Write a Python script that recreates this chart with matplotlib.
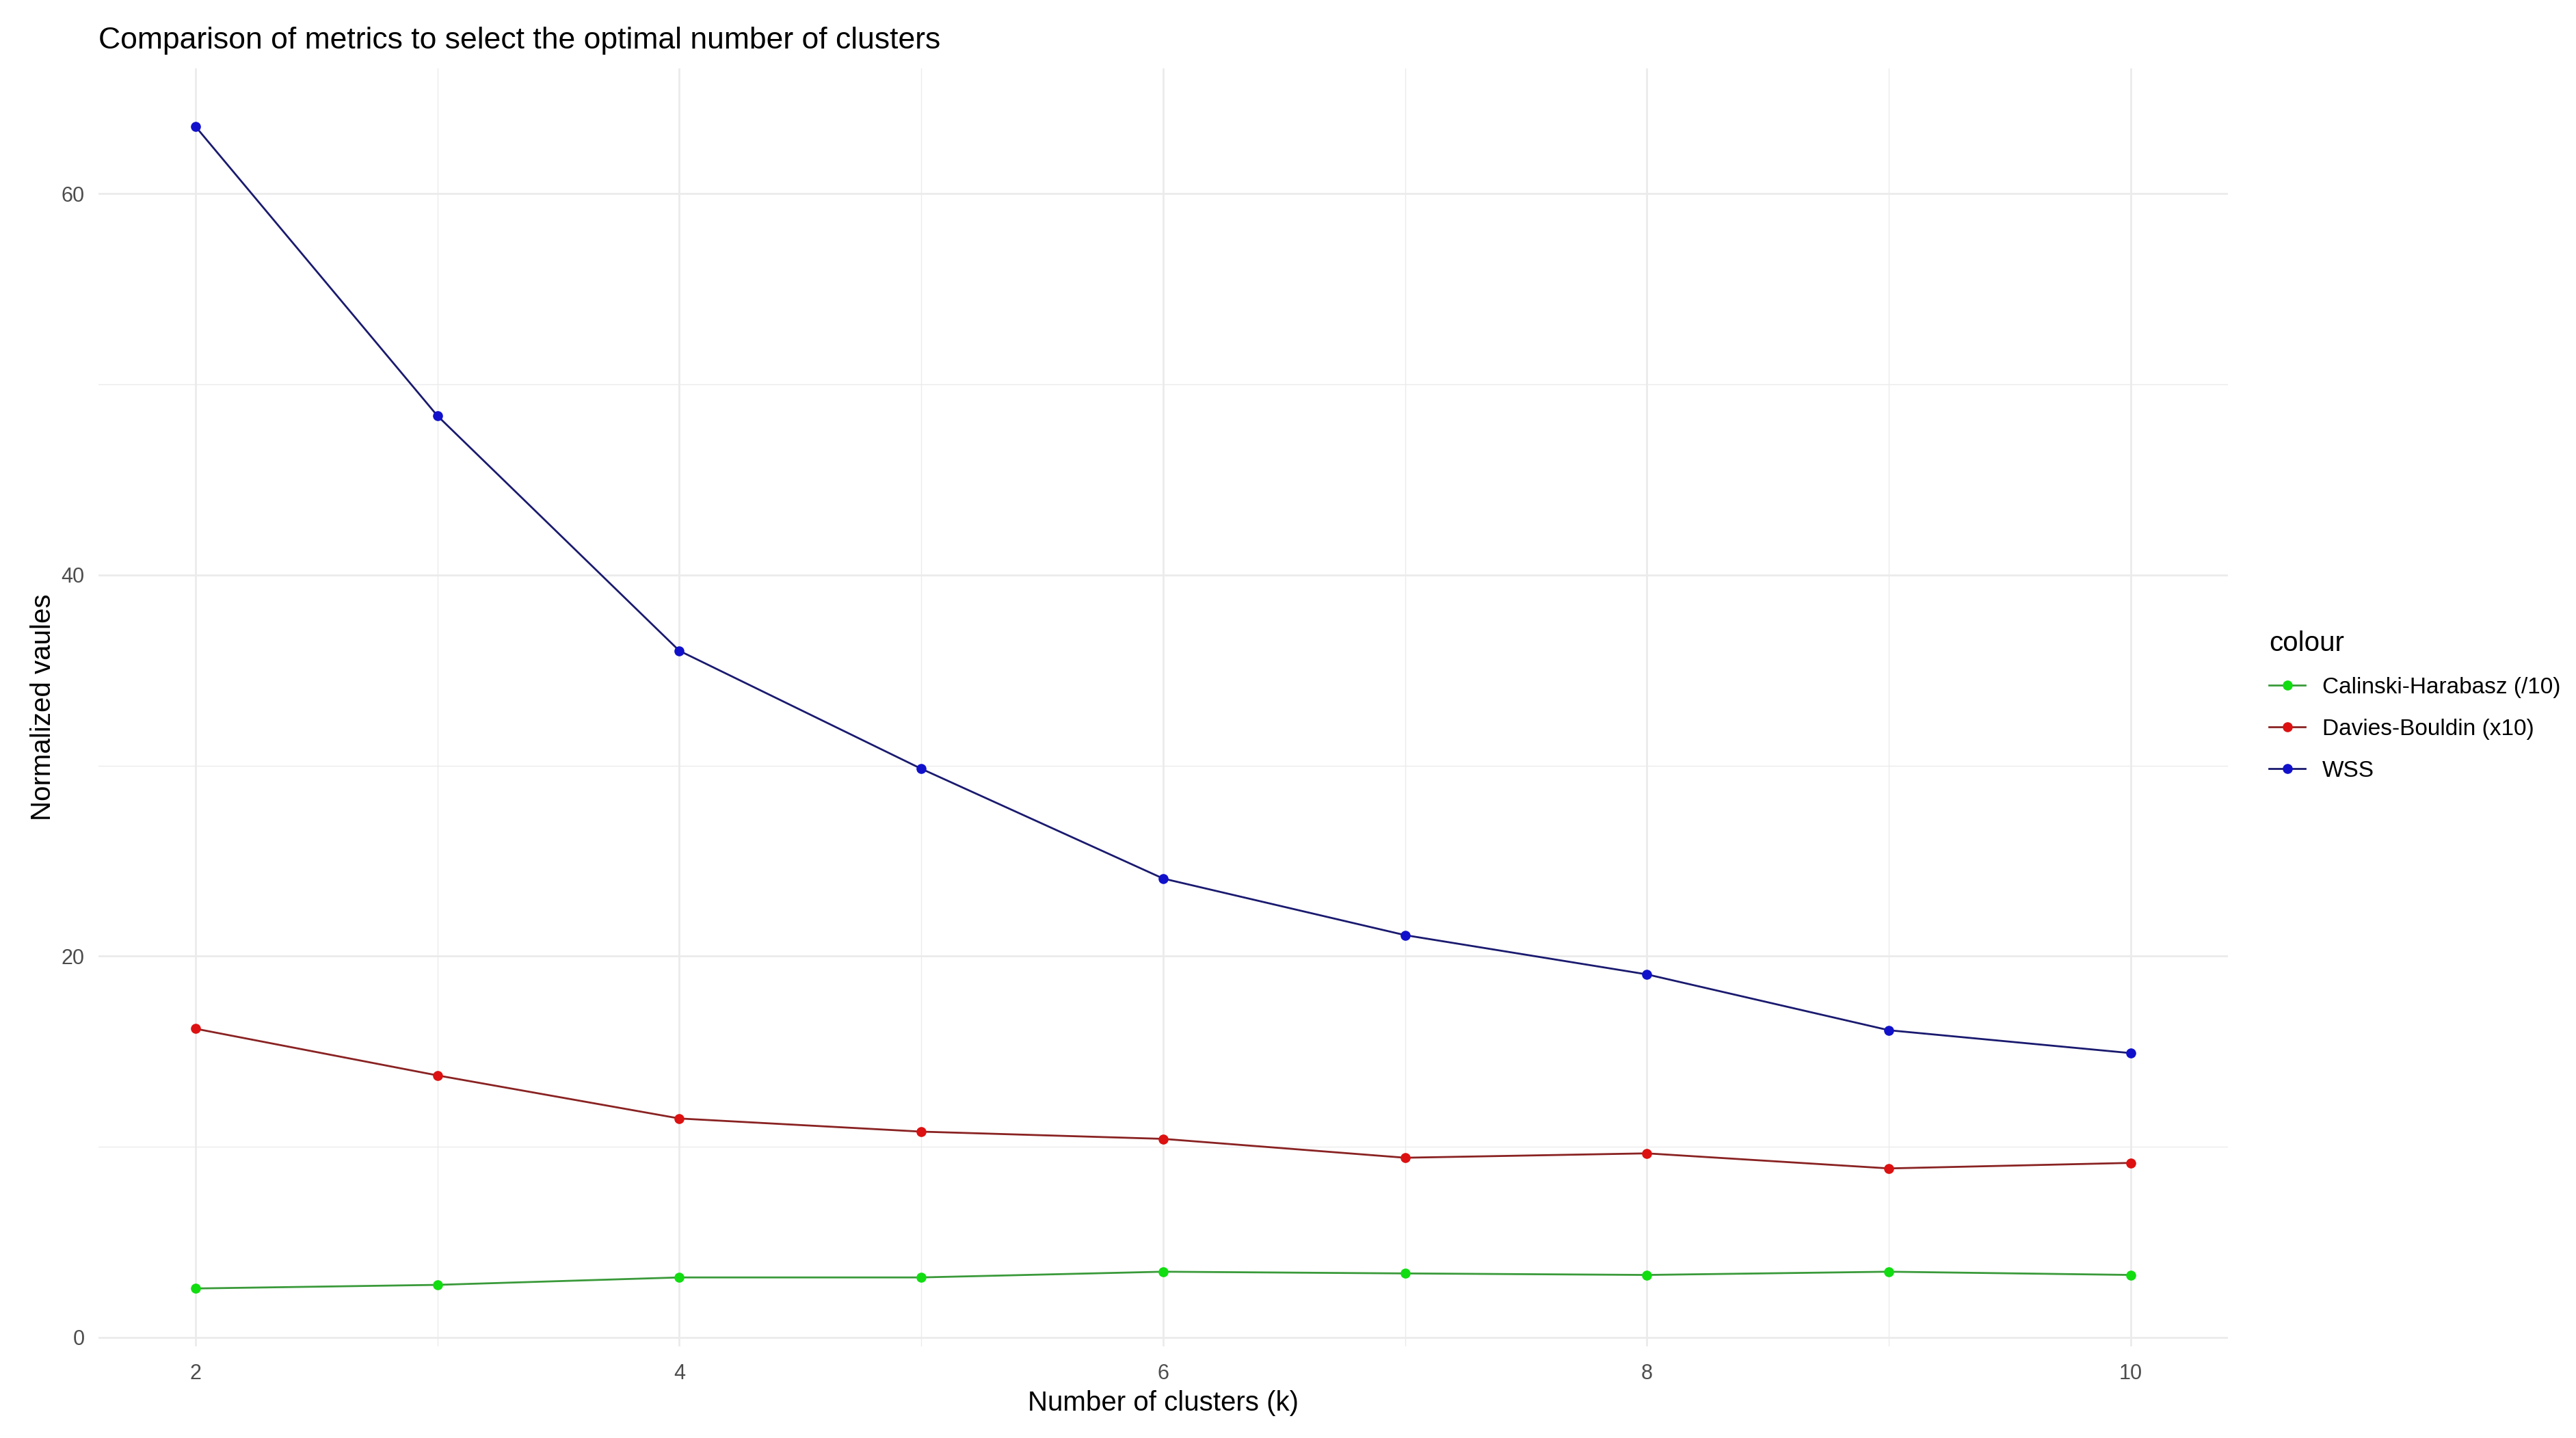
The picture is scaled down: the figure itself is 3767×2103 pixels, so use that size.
import numpy as np
import matplotlib
matplotlib.use('Agg')
import matplotlib.pyplot as plt
from matplotlib.lines import Line2D

plt.rcParams['font.family'] = ['Liberation Sans', 'DejaVu Sans']

# data
k = [2, 3, 4, 5, 6, 7, 8, 9, 10]
wss = [63.53, 48.35, 36.02, 29.83, 24.07, 21.10, 19.04, 16.11, 14.91]
db_x10 = [16.19, 13.74, 11.48, 10.79, 10.41, 9.42, 9.65, 8.86, 9.15]
ch_div10 = [2.56, 2.75, 3.14, 3.14, 3.44, 3.35, 3.27, 3.44, 3.27]
labels = ['Calinski-Harabasz (/10)', 'Davies-Bouldin (x10)', 'WSS']
xticks = [2, 4, 6, 8, 10]
yticks = [0, 20, 40, 60]

point_cols = ['#11dd11', '#dd1111', '#1111cc']
line_cols = ['#3a9a3a', '#8a2222', '#1a1a70']

W, H = 3767, 2103
fig = plt.figure(figsize=(W/100.0, H/100.0), dpi=100)
fig.patch.set_facecolor('white')

# panel in pixel coords
pl, pr, pt, pb = 144.4, 3257.5, 100.0, 1969.3
ax = fig.add_axes([pl/W, 1-pb/H, (pr-pl)/W, (pb-pt)/H])

series = [ch_div10, db_x10, wss]
for vals, lc in zip(series, line_cols):
    ax.plot(k, vals, '-', color=lc, lw=2.0, zorder=3)
for vals, pc in zip(series, point_cols):
    ax.plot(k, vals, 'o', color=pc, ms=9.5, mec=pc, zorder=4, ls='none')

allv = ch_div10 + db_x10 + wss
lo, hi = min(allv), max(allv)
ax.set_ylim(lo - 0.05*(hi-lo), hi + 0.05*(hi-lo))
ax.set_xlim(k[0] - 0.05*(k[-1]-k[0]), k[-1] + 0.05*(k[-1]-k[0]))

ax.set_xticks(xticks)
ax.set_yticks(yticks)
ax.set_xticks([3, 5, 7, 9], minor=True)
ax.set_yticks([10, 30, 50], minor=True)
ax.grid(which='major', color='#ebebeb', lw=2.0, zorder=0)
ax.grid(which='minor', color='#ebebeb', lw=1.0, zorder=0)
ax.set_axisbelow(True)
for s in ax.spines.values():
    s.set_visible(False)
ax.tick_params(which='both', length=0, labelsize=22, labelcolor='#4d4d4d')
ax.tick_params(axis='x', pad=18)
ax.tick_params(axis='y', pad=15)

ax.set_xlabel('Number of clusters (k)', fontsize=29, labelpad=6)
ax.set_ylabel('Normalized vaules', fontsize=29, labelpad=5)
fig.text(pl/W, 1-60/H, 'Comparison of metrics to select the optimal number of clusters',
         fontsize=32, ha='left', va='center')

handles = []
for lc, pc in zip(line_cols, point_cols):
    handles.append(Line2D([0], [0], color=lc, lw=2.0, marker='o', ms=9.5, mfc=pc, mec=pc))
leg = fig.legend(handles, labels, title='colour', loc='upper left',
                 bbox_to_anchor=(3288/W, 1-892/H), frameon=False,
                 fontsize=24, title_fontsize=29, alignment='left',
                 handlelength=1.6, handletextpad=0.75, labelspacing=0.9)

fig.savefig('out.png', dpi=100, facecolor='white')
